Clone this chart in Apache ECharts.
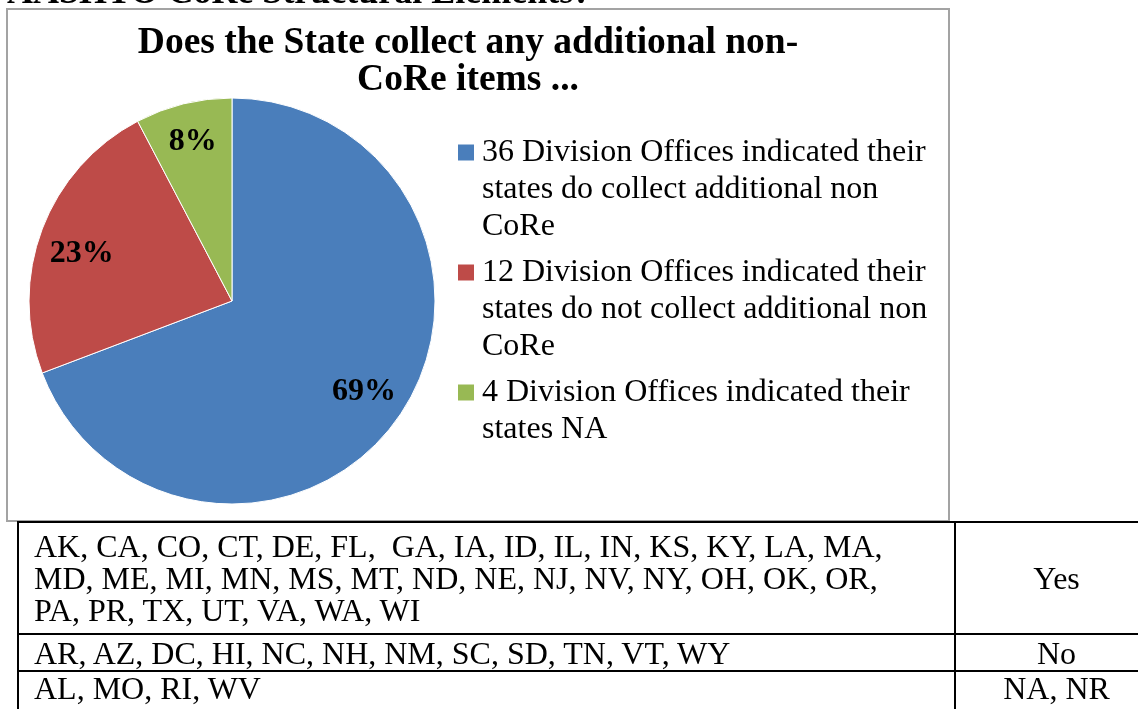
<!DOCTYPE html>
<html>
<head>
<meta charset="utf-8">
<script src="https://cdn.jsdelivr.net/npm/echarts@6/dist/echarts.min.js"></script>
<style>
  html, body { margin: 0; padding: 0; background: #fff; overflow: hidden; }
  #page { position: relative; width: 1138px; height: 709px; overflow: hidden; }
  #chart { position: absolute; left: 0; top: 0; width: 1138px; height: 709px; }
  .head {
    position: absolute; left: 7px; top: -27px; white-space: nowrap;
    font: bold 36px/36px "Liberation Serif", "Times New Roman", serif; color: #000;
  }
  table.states {
    position: absolute; left: 17px; top: 521px; width: 1140px;
    border-collapse: collapse; table-layout: fixed;
    font: 32px/32px "Liberation Serif", "Times New Roman", serif; color: #000;
  }
  table.states td { border: 2px solid #000; vertical-align: middle; padding: 0 0 0 15px; white-space: pre; }
  table.states td.ans { text-align: center; padding: 0; }
</style>
</head>
<body>
<div id="page">
  <div id="chart"></div>
  <div class="head">AASHTO CoRe Structural Elements?</div>
  <table class="states" id="tbl">
    <colgroup><col style="width:937px"><col style="width:203px"></colgroup>
  </table>
</div>
<script>
// pie data
var categories = [
  '36 Division Offices indicated their\nstates do collect additional non\nCoRe',
  '12 Division Offices indicated their\nstates do not collect additional non\nCoRe',
  '4 Division Offices indicated their\nstates NA'
];
var offices = [36, 12, 4];
var colors = ['#4A7EBB', '#BE4B48', '#98B954'];

// table data
var yesStates = ['AK', 'CA', 'CO', 'CT', 'DE', 'FL', ' GA', 'IA', 'ID', 'IL', 'IN', 'KS', 'KY', 'LA', 'MA',
  'MD', 'ME', 'MI', 'MN', 'MS', 'MT', 'ND', 'NE', 'NJ', 'NV', 'NY', 'OH', 'OK', 'OR',
  'PA', 'PR', 'TX', 'UT', 'VA', 'WA', 'WI'];
var noStates = ['AR', 'AZ', 'DC', 'HI', 'NC', 'NH', 'NM', 'SC', 'SD', 'TN', 'VT', 'WY'];
var naStates = ['AL', 'MO', 'RI', 'WV'];
var answers = ['Yes', 'No', 'NA, NR'];

// build the table under the chart
function lineOf(arr, a, b, last) {
  return arr.slice(a, b).join(', ') + (last ? '' : ',');
}
var tbl = document.getElementById('tbl');
var rows = [
  { html: lineOf(yesStates, 0, 15) + '\n' + lineOf(yesStates, 15, 29) + '\n' + lineOf(yesStates, 29, 36, true), h: 112 },
  { html: noStates.join(', '), h: 37 },
  { html: naStates.join(', '), h: 37 }
];
rows.forEach(function (r, i) {
  var tr = document.createElement('tr');
  tr.style.height = r.h + 'px';
  tr.innerHTML = '<td>' + r.html + '</td><td class="ans">' + answers[i] + '</td>';
  tbl.appendChild(tr);
});
// last row runs past the bottom edge
tbl.lastChild.lastChild.style.verticalAlign = 'top';
tbl.lastChild.firstChild.style.verticalAlign = 'top';
tbl.lastChild.style.height = '60px';

var myChart = echarts.init(document.getElementById('chart'));

var pieData = categories.map(function (c, i) {
  return { name: c, value: offices[i], itemStyle: { color: colors[i] } };
});

// small nudges so labels sit like the original
var labelOffsets = [[-3, -2], [3, 11], [0, 0]];

// rich styles for legend squares, so the square sits on the first line
var rich = { gap: { width: 8 }, ind: { width: 24 } };
colors.forEach(function (c, i) {
  rich['s' + i] = { width: 16, height: 16, backgroundColor: c };
});

var option = {
  animation: false,
  title: {
    text: 'Does the State collect any additional non-\nCoRe items ...',
    left: 468,
    top: 25,
    padding: 0,
    textAlign: 'center',
    textStyle: {
      fontFamily: 'Liberation Serif',
      fontWeight: 'bold',
      fontSize: 37.5,
      lineHeight: 37,
      color: '#000'
    }
  },
  legend: {
    orient: 'vertical',
    left: 452,
    top: 134,
    padding: 0,
    itemGap: 9,
    itemWidth: 0,
    itemHeight: 0,
    icon: 'rect',
    selectedMode: false,
    data: categories,
    formatter: function (name) {
      var i = categories.indexOf(name);
      var lines = name.split('\n');
      var s = '{s' + i + '|}{gap|}' + lines[0];
      for (var k = 1; k < lines.length; k++) s += '\n{ind|}' + lines[k];
      return s;
    },
    textStyle: {
      fontFamily: 'Liberation Serif',
      fontSize: 32,
      lineHeight: 37,
      color: '#000',
      rich: rich
    }
  },
  graphic: [{
    type: 'rect',
    shape: { x: 7, y: 9, width: 942, height: 512 },
    style: { fill: 'none', stroke: '#a3a3a3', lineWidth: 2 },
    silent: true
  }],
  series: [
    {
      type: 'pie',
      center: [232, 301],
      radius: [0, 203],
      startAngle: 90,
      clockwise: true,
      data: pieData,
      label: { show: false },
      labelLine: { show: false },
      itemStyle: { borderColor: '#fff', borderWidth: 1 },
      emphasis: { disabled: true }
    },
    {
      // transparent ring only used to place the percent labels
      type: 'pie',
      center: [232, 301],
      radius: [150, 172],
      startAngle: 90,
      clockwise: true,
      silent: true,
      data: pieData.map(function (d, i) {
        return { name: d.name, value: d.value, label: { offset: labelOffsets[i] } };
      }),
      itemStyle: { color: 'rgba(0,0,0,0)' },
      label: {
        show: true,
        position: 'inside',
        formatter: function (p) { return Math.round(p.percent) + '%'; },
        fontFamily: 'Liberation Serif',
        fontWeight: 'bold',
        fontSize: 32,
        color: '#000'
      },
      labelLine: { show: false },
      emphasis: { disabled: true }
    }
  ]
};

option && myChart.setOption(option);
</script>
</body>
</html>
